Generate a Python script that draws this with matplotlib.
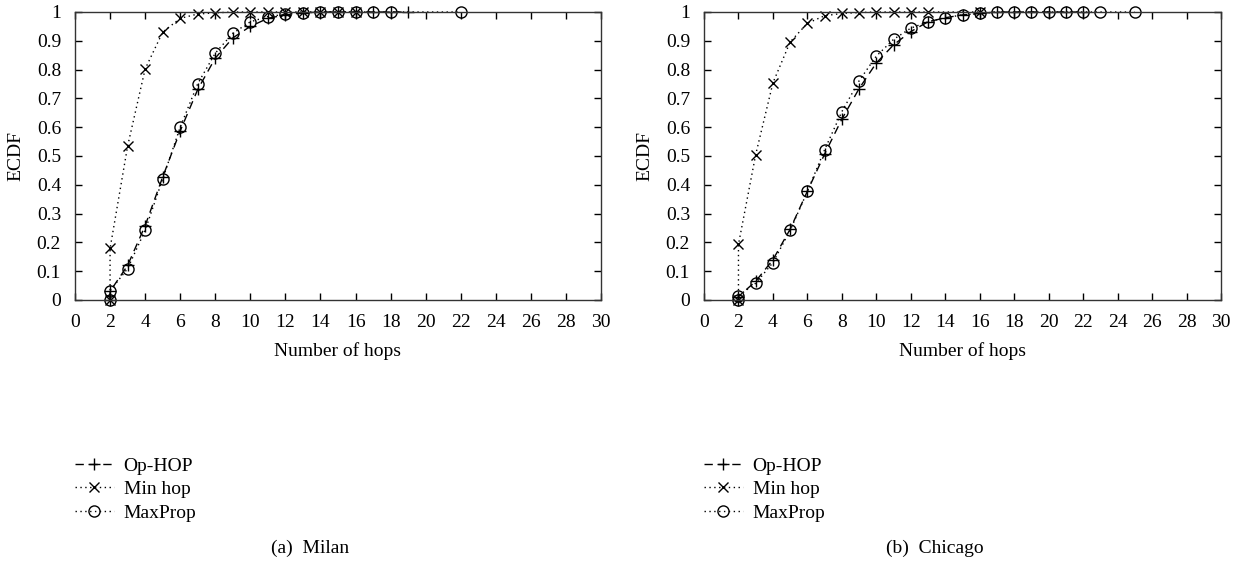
import matplotlib
matplotlib.use('Agg')
import matplotlib.pyplot as plt

plt.rcParams['font.family'] = ['Liberation Serif', 'DejaVu Serif']
plt.rcParams['font.size'] = 14

# Milan
milan_op_x = [2, 2, 3, 4, 5, 6, 7, 8, 9, 10, 11, 12, 13, 14, 15, 16, 17, 18, 19]
milan_op_y = [0, 0.03, 0.12, 0.258, 0.427, 0.587, 0.731, 0.84, 0.91, 0.95, 0.978, 0.99, 0.997, 1, 1, 1, 1, 1, 1]
milan_min_x = [2, 2, 3, 4, 5, 6, 7, 8, 9, 10, 11, 12, 13, 14, 15, 16]
milan_min_y = [0, 0.179, 0.534, 0.802, 0.93, 0.978, 0.993, 0.997, 1, 1, 1, 1, 1, 1, 1, 1]
milan_max_x = [2, 2, 3, 4, 5, 6, 7, 8, 9, 10, 11, 12, 13, 14, 15, 16, 17, 18, 22]
milan_max_y = [0, 0.032, 0.109, 0.242, 0.42, 0.6, 0.751, 0.857, 0.926, 0.966, 0.984, 0.992, 0.997, 1, 1, 1, 1, 1, 1]

# Chicago
chicago_op_x = [2, 2, 3, 4, 5, 6, 7, 8, 9, 10, 11, 12, 13, 14, 15, 16, 17, 18, 19, 20, 21, 22]
chicago_op_y = [0, 0.012, 0.065, 0.14, 0.246, 0.378, 0.507, 0.628, 0.734, 0.823, 0.886, 0.932, 0.966, 0.98, 0.99, 0.995, 1, 1, 1, 1, 1, 1]
chicago_min_x = [2, 2, 3, 4, 5, 6, 7, 8, 9, 10, 11, 12, 13, 16]
chicago_min_y = [0, 0.193, 0.505, 0.754, 0.896, 0.961, 0.987, 0.995, 0.998, 1, 1, 1, 1, 1]
chicago_max_x = [2, 2, 3, 4, 5, 6, 7, 8, 9, 10, 11, 12, 13, 14, 15, 16, 17, 18, 19, 20, 21, 22, 23, 25]
chicago_max_y = [0, 0.015, 0.058, 0.13, 0.242, 0.377, 0.522, 0.654, 0.761, 0.847, 0.905, 0.944, 0.966, 0.98, 0.99, 0.995, 1, 1, 1, 1, 1, 1, 1, 1]

labels = ['Op-HOP', 'Min hop', 'MaxProp']
xticks = list(range(0, 31, 2))
yticks = [i / 10 for i in range(11)]
ytick_labels = ['0', '0.1', '0.2', '0.3', '0.4', '0.5', '0.6', '0.7', '0.8', '0.9', '1']

panels = [
    ('(a)  Milan', milan_op_x, milan_op_y, milan_min_x, milan_min_y, milan_max_x, milan_max_y),
    ('(b)  Chicago', chicago_op_x, chicago_op_y, chicago_min_x, chicago_min_y, chicago_max_x, chicago_max_y),
]

W, H = 1247, 563
fig = plt.figure(figsize=(W / 100, H / 100), dpi=100)
# axes boxes in pixels: left, right
boxes = [(75, 601), (704, 1221)]
top_px, bot_px = 12, 300
captions_x = [310, 935]

for i, (caption, ox, oy, mx, my, px, py) in enumerate(panels):
    l, r = boxes[i]
    ax = fig.add_axes([l / W, 1 - bot_px / H, (r - l) / W, (bot_px - top_px) / H])
    ax.plot(ox, oy, color='black', lw=1, dashes=(6, 4), marker='+', ms=9, mew=1, clip_on=False, label=labels[0])
    ax.plot(mx, my, color='black', lw=1, dashes=(1, 2.5), marker='x', ms=7, mew=1, clip_on=False, label=labels[1])
    ax.plot(px, py, color='black', lw=1, dashes=(1, 2.5), marker='o', ms=8, mew=1, mfc='none', clip_on=False, label=labels[2])
    ax.set_xlim(0, 30)
    ax.set_ylim(0, 1)
    ax.set_xticks(xticks)
    ax.set_yticks(yticks)
    ax.set_yticklabels(ytick_labels)
    ax.tick_params(direction='in', top=True, right=True, length=5, width=1, labelsize=14)
    ax.tick_params(axis='x', pad=10)
    ax.tick_params(axis='y', pad=10)
    for s in ax.spines.values():
        s.set_linewidth(1)
        s.set_color('#333333')
    ax.set_xlabel('Number of hops', fontsize=14, labelpad=8)
    ax.set_ylabel('ECDF', fontsize=14, labelpad=9)

    ax.legend(loc='upper left', bbox_to_anchor=(0, -(457 - bot_px) / (bot_px - top_px)), frameon=False,
              fontsize=14, handlelength=2.0, handletextpad=0.5, labelspacing=0.3,
              borderpad=0, borderaxespad=0, numpoints=1)

    fig.text(captions_x[i] / W, 1 - 548 / H, caption, ha='center', va='center', fontsize=14)

fig.savefig('out.png', dpi=100)
